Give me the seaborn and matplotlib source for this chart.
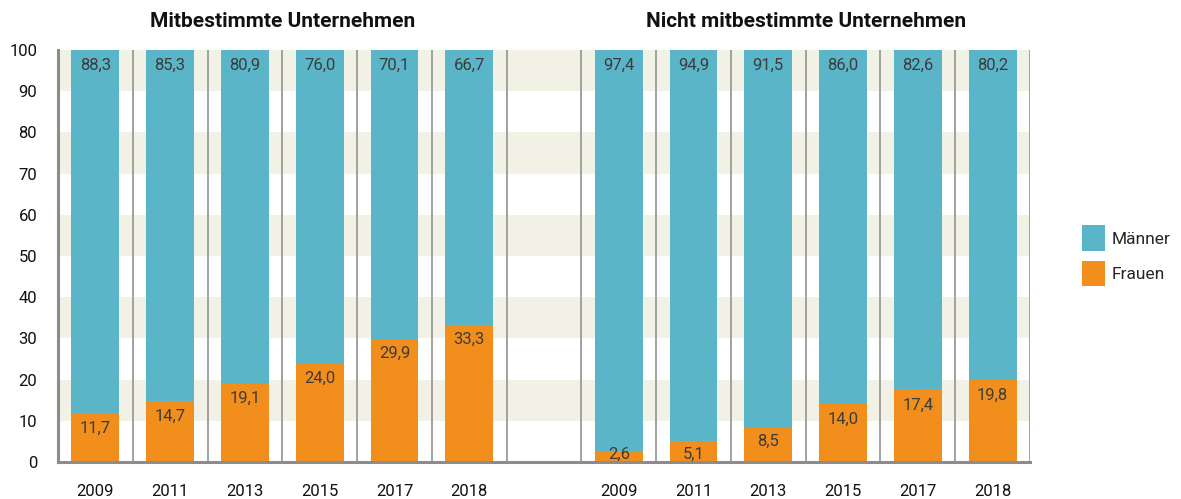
import matplotlib
matplotlib.use("Agg")
import matplotlib.pyplot as plt
import matplotlib.transforms as mtransforms
from matplotlib.patches import Patch
from matplotlib import font_manager
import seaborn as sns
import pandas as pd

years = ["2009", "2011", "2013", "2015", "2017", "2018"]
groups = ["Mitbestimmte Unternehmen", "Nicht mitbestimmte Unternehmen"]
maenner_mit = [88.3, 85.3, 80.9, 76.0, 70.1, 66.7]
frauen_mit = [11.7, 14.7, 19.1, 24.0, 29.9, 33.3]
maenner_nicht = [97.4, 94.9, 91.5, 86.0, 82.6, 80.2]
frauen_nicht = [2.6, 5.1, 8.5, 14.0, 17.4, 19.8]
series_names = ["Männer", "Frauen"]
yticks = [0, 10, 20, 30, 40, 50, 60, 70, 80, 90, 100]

BLUE = "#5BB5C8"
ORANGE = "#F28E1C"
BAND = "#F2F1E6"
LINE = "#9A9A9A"
TXT = "#3C3C3C"

rows = []
for g, men, women in [(groups[0], maenner_mit, frauen_mit), (groups[1], maenner_nicht, frauen_nicht)]:
    for y, m, w in zip(years, men, women):
        rows.append({"key": f"{g}|{y}", "group": g, "year": y, "men": m, "women": w, "total": m + w})
df = pd.DataFrame(rows)
order = [f"{groups[0]}|{y}" for y in years] + ["gap"] + [f"{groups[1]}|{y}" for y in years]

sns.set_style("white")
plt.rcParams["font.family"] = ["Roboto", "DejaVu Sans"]

names = {f.name for f in font_manager.fontManager.ttflist}
legend_family = ["Liberation Sans Narrow"] if "Liberation Sans Narrow" in names else ["Roboto"]
legend_size = 13.5 if "Liberation Sans Narrow" in names else 12.5

fig = plt.figure(figsize=(11.81, 4.99), dpi=100)
ax = fig.add_axes([58 / 1181, 1 - 462 / 499, (1030 - 58) / 1181, 412 / 499])

for lo in range(10, 100, 20):
    ax.axhspan(lo, lo + 10, color=BAND, zorder=0, lw=0)

sns.barplot(data=df, x="key", y="total", order=order, color=BLUE, width=0.64,
            saturation=1, ax=ax, zorder=2, errorbar=None, linewidth=0, edgecolor="none")
sns.barplot(data=df, x="key", y="women", order=order, color=ORANGE, width=0.64,
            saturation=1, ax=ax, zorder=3, errorbar=None, linewidth=0, edgecolor="none")

ax.set_xlim(-0.5, len(order) - 0.5)
ax.set_ylim(0, 100)

for k in range(len(order)):
    ax.axvline(k + 0.5, color=LINE, lw=1.3, zorder=1)

for i, key in enumerate(order):
    sub = df[df["key"] == key]
    if sub.empty:
        continue
    r = sub.iloc[0]
    ax.text(i, r["total"] - 3.6, f"{r['men']:.1f}".replace(".", ","), ha="center", va="center",
            fontsize=12, color=TXT, zorder=5)
    ax.text(i, max(r["women"] - 3.6, 1.9), f"{r['women']:.1f}".replace(".", ","), ha="center", va="center",
            fontsize=12, color=TXT, zorder=5)

ax.set_xticks(range(len(order)))
ax.set_xticklabels([k.split("|")[1] if "|" in k else "" for k in order], fontsize=12, color="#111111")
ax.set_yticks(yticks)
ax.set_yticklabels([str(t) for t in yticks], fontsize=12, color="#111111")
ax.tick_params(axis="x", length=0, pad=16)
ax.tick_params(axis="y", length=0, pad=15)
ax.set_xlabel("")
ax.set_ylabel("")

for s in ["top", "right"]:
    ax.spines[s].set_visible(False)
for s in ["left", "bottom"]:
    ax.spines[s].set_color("#8C8C8C")
    ax.spines[s].set_linewidth(2.2)
    ax.spines[s].set_zorder(6)

trans = mtransforms.blended_transform_factory(ax.transData, ax.transAxes)
ax.text(2.5, 1.068, groups[0], transform=trans, ha="center", va="center",
        fontsize=15, fontweight="bold", color="#111111")
ax.text(9.5, 1.068, groups[1], transform=trans, ha="center", va="center",
        fontsize=15, fontweight="bold", color="#111111")

handles = [Patch(facecolor=BLUE, edgecolor="none", label=series_names[0]),
           Patch(facecolor=ORANGE, edgecolor="none", label=series_names[1])]
fig.legend(handles=handles, loc="upper left", bbox_to_anchor=(1079 / 1181, 1 - 222 / 499),
           frameon=False, handlelength=1.3, handleheight=1.9, handletextpad=0.4,
           labelspacing=0.55, borderaxespad=0, borderpad=0.2,
           prop={"family": legend_family, "size": legend_size})

fig.savefig("out.png", dpi=100)
